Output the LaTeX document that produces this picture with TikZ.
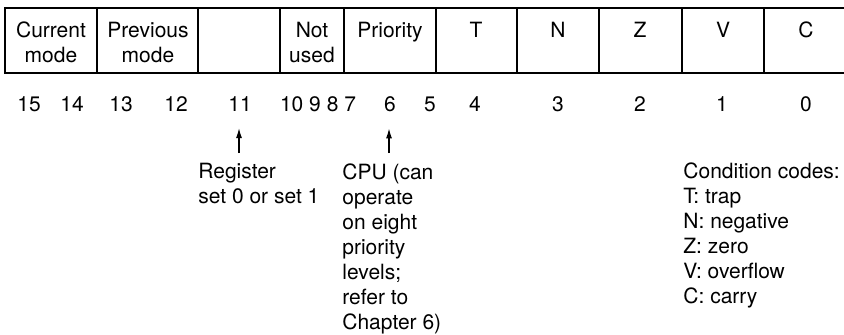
\documentclass[tikz,border=0pt]{standalone}
\usepackage{fontspec}
\setmainfont{TeX Gyre Heros}
\usetikzlibrary{arrows.meta,positioning}

\begin{document}
\begin{tikzpicture}[
  x=0.5pt, y=-0.5pt,
  lbl/.style={anchor=base, align=center, inner sep=0pt, font=\fontsize{10.5}{12.5}\selectfont},
  bit/.style={anchor=base, font=\fontsize{10.5}{12.5}\selectfont},
  note/.style={anchor=base west, align=left, inner sep=0pt, font=\fontsize{10.5}{12.5}\selectfont},
  arr/.style={-{Latex[length=5pt,width=3pt]}, line width=0.6pt, shorten >=5pt}
]
  \useasboundingbox (0,0) rectangle (844,334);
  % register outline
  \draw[line width=0.8pt] (844,8) -- (5,8) -- (5,73) -- (844,73);
  \foreach \x in {97,198,280,344,436,517,599,682,764}
    \draw[line width=0.8pt] (\x,8) -- (\x,73);
  % field names (base = last line)
  \node[lbl] (cur) at (51,62) {Current\\mode};
  \node[lbl] (prev) at (148,62) {Previous\\mode};
  \node[lbl] (nu) at (312,62) {Not\\used};
  \node[lbl] (pri) at (390,37) {Priority};
  \node[lbl] (ft) at (476,37) {T};
  \node[lbl] (fn) at (558,37) {N};
  \node[lbl] (fz) at (640,37) {Z};
  \node[lbl] (fv) at (723,37) {V};
  \node[lbl] (fc) at (806,37) {C};
  % bit numbers
  \node[bit] (b15) at (29,111) {15};
  \node[bit] (b14) at (72,111) {14};
  \node[bit] (b13) at (121,111) {13};
  \node[bit] (b12) at (176,111) {12};
  \node[bit] (b11) at (240,111) {11};
  \node[bit] (b10) at (318,111) {10 9 8 7};
  \node[bit] (b6) at (390,111) {6};
  \node[bit] (b5) at (430,111) {5};
  \node[bit] (b4) at (475,111) {4};
  \node[bit] (b3) at (558,111) {3};
  \node[bit] (b2) at (640,111) {2};
  \node[bit] (b1) at (722,111) {1};
  \node[bit] (b0) at (806,111) {0};
  % notes (base = last line)
  \node[note] (reg) at (198,203) {Register\\set 0 or set 1};
  \node[note] (cpu) at (342,329) {CPU (can\\operate\\on eight\\priority\\levels;\\refer to\\Chapter 6)};
  \node[note] (cc) at (683,303) {Condition codes:\\T: trap\\N: negative\\Z: zero\\V: overflow\\C: carry};
  \coordinate (t11) at (239,153);
  \coordinate (t6) at (389,153);
  \draw[arr] (t11) -- (t11 |- b11.south);
  \draw[arr] (t6) -- (t6 |- b6.south);
\end{tikzpicture}
\end{document}
